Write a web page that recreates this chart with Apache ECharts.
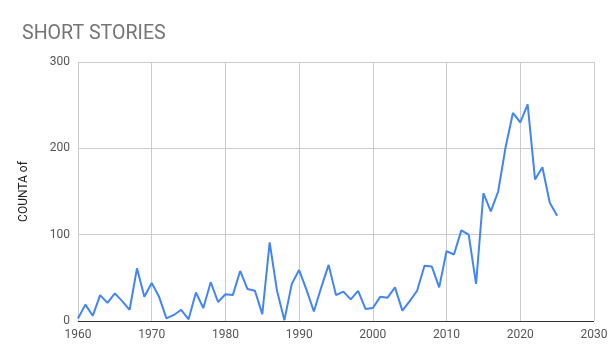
<!DOCTYPE html>
<html><head><meta charset="utf-8">
<script src="https://cdn.jsdelivr.net/npm/echarts@6/dist/echarts.min.js"></script>
<style>html,body{margin:0;padding:0;background:#fff}#c{width:611px;height:360px}</style>
</head><body><div id="c"></div>
<script>
const years = [1960,1961,1962,1963,1964,1965,1966,1967,1968,1969,1970,1971,1972,1973,1974,1975,1976,1977,1978,1979,1980,1981,1982,1983,1984,1985,1986,1987,1988,1989,1990,1991,1992,1993,1994,1995,1996,1997,1998,1999,2000,2001,2002,2003,2004,2005,2006,2007,2008,2009,2010,2011,2012,2013,2014,2015,2016,2017,2018,2019,2020,2021,2022,2023,2024,2025];
const counts = [3,19,6,30,21,32,23,13,61,28,44,28,3,7,13,2,33,15,45,22,31,30,58,37,35,8,91,35,1,43,59,36,11,39,65,30,34,25,35,14,15,28,27,39,12,23,35,64,63,39,81,77,105,100,43,148,127,150,201,241,230,251,164,178,137,122];
const xTicks = [1960,1970,1980,1990,2000,2010,2020,2030];
const yTicks = [0,100,200,300];
const titleText = 'SHORT STORIES';
const yName = 'COUNTA of';

const chart = echarts.init(document.getElementById('c'), null, {renderer:'canvas'});
chart.setOption({
  animation:false,
  textStyle:{fontFamily:'Roboto'},
  title:{text:titleText,left:17,top:19,textStyle:{fontFamily:'Roboto',fontSize:19.6,fontWeight:'normal',color:'#757575'}},
  grid:{left:78,right:17,top:62,bottom:39,containLabel:false},
  xAxis:{type:'value',min:xTicks[0],max:xTicks[xTicks.length-1],interval:10,
    axisLine:{show:false},axisTick:{show:false},
    splitLine:{show:true,lineStyle:{color:'#cccccc',width:1}},
    axisLabel:{color:'#555',fontSize:12,margin:8,formatter:v=>String(v)}},
  yAxis:{type:'value',min:yTicks[0],max:yTicks[yTicks.length-1],interval:100,
    name:yName,nameLocation:'middle',nameGap:48,nameRotate:90,
    nameTextStyle:{color:'#222',fontSize:12,padding:[0,0,0,0]},
    axisLine:{show:false},axisTick:{show:false},
    splitLine:{show:true,lineStyle:{color:'#cccccc',width:1}},
    axisLabel:{color:'#555',fontSize:12,margin:8}},
  series:[{type:'line',data:years.map((y,i)=>[y,counts[i]]),showSymbol:false,
    lineStyle:{color:'#4285F4',width:2},itemStyle:{color:'#4285F4'},
    markLine:{silent:true,symbol:'none',label:{show:false},lineStyle:{color:'#333',width:1,type:'solid'},data:[{yAxis:0}]}}]
});
</script></body></html>
